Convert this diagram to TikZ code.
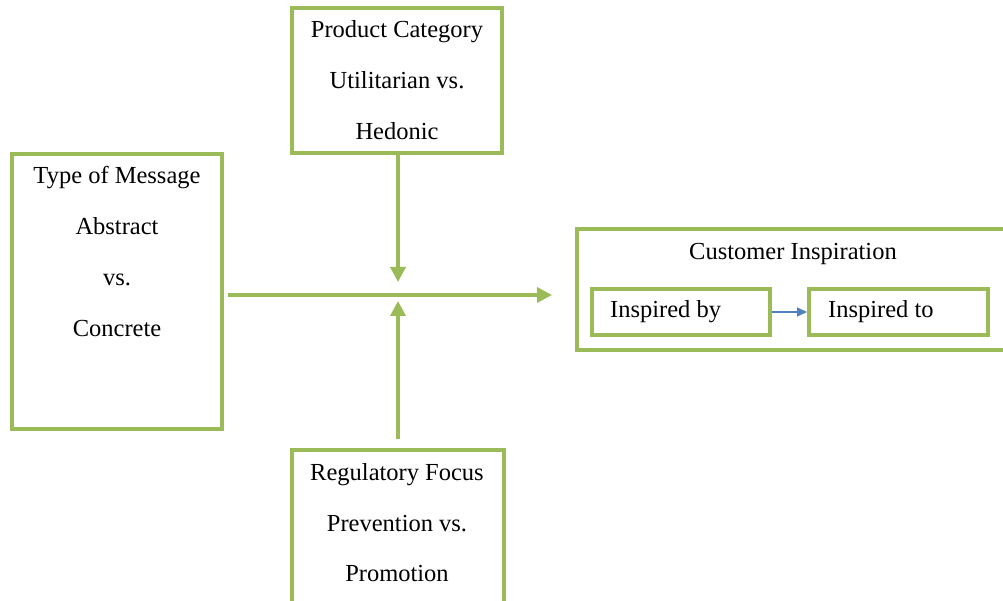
\documentclass[tikz,border=0pt]{standalone}
\usepackage{fontspec}
\setmainfont{Liberation Serif}
\usetikzlibrary{arrows.meta}
\definecolor{grn}{RGB}{155,187,89}
\definecolor{blu}{RGB}{79,129,189}
\begin{document}
\begin{tikzpicture}[x=1pt,y=-1pt,
 box/.style={draw=grn,line width=4pt,inner sep=0pt,rectangle},
 lbl/.style={font=\fontsize{24.5}{29}\selectfont,anchor=base,inner sep=0pt},
 garrow/.style={draw=grn,line width=3.5pt,-{Triangle[length=15pt,width=15pt]}},
]
\useasboundingbox[fill=white] (0,0) rectangle (1003,601);
\node[box,minimum width=210pt,minimum height=275pt] (msg) at (117,291.5) {};
\node[box,minimum width=210pt,minimum height=145pt] (cat) at (397,80.5) {};
\node[box,minimum width=212pt,minimum height=170pt] (reg) at (398,535) {};
\node[box,minimum width=440pt,minimum height=121pt] (ci) at (797,289.5) {};
\node[box,minimum width=178pt,minimum height=46pt] (by) at (681,312) {};
\node[box,minimum width=179pt,minimum height=46pt] (to) at (898.5,312) {};
\coordinate (j) at (398,295);

\node[lbl] (m1) at (117,184) {Type of Message};
\node[lbl] (m2) at (117,235) {Abstract};
\node[lbl] (m3) at (117,286) {vs.};
\node[lbl] (m4) at (117,337) {Concrete};

\node[lbl] (c1) at (397,38) {Product Category};
\node[lbl] (c2) at (397,89) {Utilitarian vs.};
\node[lbl] (c3) at (397,140) {Hedonic};

\node[lbl] (r1) at (397,480) {Regulatory Focus};
\node[lbl] (r2) at (397,531) {Prevention vs.};
\node[lbl] (r3) at (397,581) {Promotion};

\node[lbl] (ci1) at (793,260) {Customer Inspiration};
\node[lbl,anchor=base west] (by1) at (610,318) {Inspired by};
\node[lbl,anchor=base west] (to1) at (828,318) {Inspired to};

\draw[garrow,shorten <=4pt,shorten >=23pt] (msg.east |- j) -- (ci.west |- j);
\draw[garrow,shorten >=13pt] (cat.south -| j) -- (j);
\draw[garrow,shorten <=9pt,shorten >=6pt] (reg.north -| j) -- (j);
\draw[blu,line width=1.3pt,-{Triangle[length=10pt,width=9pt]}] (by.east) -- (to.west);
\end{tikzpicture}
\end{document}
